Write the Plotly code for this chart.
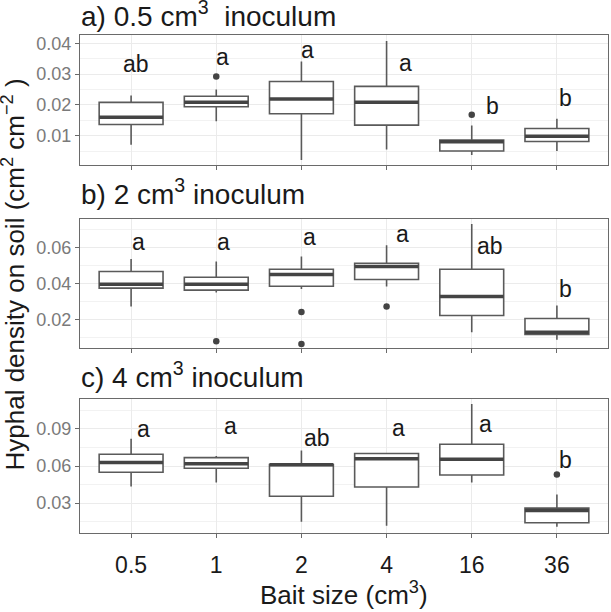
import plotly.graph_objects as go

# ---------------- data ----------------
categories = ["0.5", "1", "2", "4", "16", "36"]

# panel a) 0.5 cm3 inoculum
a_lo  = [0.0070, 0.0147, 0.0021, 0.0055, 0.0037, 0.0050]
a_q1  = [0.0136, 0.0194, 0.0171, 0.0134, 0.0050, 0.0081]
a_med = [0.0160, 0.0208, 0.0219, 0.0208, 0.0080, 0.0098]
a_q3  = [0.0208, 0.0228, 0.0276, 0.0260, 0.0086, 0.0123]
a_hi  = [0.0230, 0.0250, 0.0341, 0.0407, 0.0133, 0.0155]
a_out_x = [1, 4]
a_out_y = [0.0292, 0.0168]
a_letters = ["ab", "a", "a", "a", "b", "b"]
a_letter_y = [0.0334, 0.0350, 0.0371, 0.0328, 0.0189, 0.0216]

# panel b) 2 cm3 inoculum
b_lo  = [0.0274, 0.0352, 0.0372, 0.0385, 0.0131, 0.0089]
b_q1  = [0.0376, 0.0365, 0.0387, 0.0424, 0.0224, 0.0119]
b_med = [0.0398, 0.0398, 0.0452, 0.0496, 0.0330, 0.0131]
b_q3  = [0.0469, 0.0437, 0.0481, 0.0515, 0.0481, 0.0207]
b_hi  = [0.0539, 0.0524, 0.0552, 0.0615, 0.0733, 0.0280]
b_out_x = [1, 2, 2, 3]
b_out_y = [0.0080, 0.0244, 0.0065, 0.0274]
b_letters = ["a", "a", "a", "a", "ab", "b"]
b_letter_y = [0.0622, 0.0622, 0.0650, 0.0665, 0.0613, 0.0363]

# panel c) 4 cm3 inoculum
c_lo  = [0.0433, 0.0466, 0.0148, 0.0115, 0.0466, 0.0107]
c_q1  = [0.0549, 0.0582, 0.0355, 0.0430, 0.0527, 0.0140]
c_med = [0.0629, 0.0618, 0.0610, 0.0659, 0.0654, 0.0239]
c_q3  = [0.0695, 0.0668, 0.0612, 0.0701, 0.0776, 0.0259]
c_hi  = [0.0820, 0.0682, 0.0726, 0.0703, 0.1102, 0.0369]
c_out_x = [5]
c_out_y = [0.0532]
c_letters = ["a", "a", "ab", "a", "a", "b"]
c_letter_y = [0.0880, 0.0908, 0.0825, 0.0894, 0.0922, 0.0632]

panel_titles = ["a) 0.5 cm<sup>3</sup>\u00a0 inoculum",
                "b) 2 cm<sup>3</sup> inoculum",
                "c) 4 cm<sup>3</sup> inoculum"]
a_ticks = [0.01, 0.02, 0.03, 0.04]
b_ticks = [0.02, 0.04, 0.06]
c_ticks = [0.03, 0.06, 0.09]
a_range = [0.00046, 0.04268]
b_range = [0.0043, 0.0761]
c_range = [0.0057, 0.1143]
y_title = "Hyphal density on soil (cm<sup>2</sup> cm<sup>\u22122</sup> )"
x_title = "Bait size (cm<sup>3</sup>)"

# ---------------- styling / layout ----------------
W, H = 611, 612
FONT = "Liberation Sans, Arial, Helvetica, sans-serif"
BOX_COL = "#5a5a5a"
MED_COL = "#444444"
GRID = "#EBEBEB"
FRAME = "#6a6a6a"

left_px, right_px = 80, 608
panels_px = [(35, 165), (219, 348), (399, 533)]
letter_shift = [[5, 6, 6, 19, 21, 9],
                [7, 7, 8, 16, 18, 9],
                [12, 14, 16, 12, 14, 9]]
title_bottom_px = [34, 212, 395]

panels = [
    (a_lo, a_q1, a_med, a_q3, a_hi, a_out_x, a_out_y, a_letters, a_letter_y, a_ticks, a_range),
    (b_lo, b_q1, b_med, b_q3, b_hi, b_out_x, b_out_y, b_letters, b_letter_y, b_ticks, b_range),
    (c_lo, c_q1, c_med, c_q3, c_hi, c_out_x, c_out_y, c_letters, c_letter_y, c_ticks, c_range),
]

fig = go.Figure()
annotations = []
layout = {}
xi = list(range(len(categories)))
half = 0.375

for p, (lo, q1, med, q3, hi, ox, oy, letters, ly, ticks, yr) in enumerate(panels):
    n = p + 1
    xa = "x" if n == 1 else f"x{n}"
    ya = "y" if n == 1 else f"y{n}"
    fig.add_trace(go.Box(
        x=xi, q1=q1, median=med, q3=q3, lowerfence=lo, upperfence=hi,
        width=0.75, whiskerwidth=0, fillcolor="white",
        line=dict(color=BOX_COL, width=1.6), boxpoints=False,
        xaxis=xa, yaxis=ya, showlegend=False, hoverinfo="skip"))
    mx, my = [], []
    for i, m in enumerate(med):
        mx += [i - half, i + half, None]
        my += [m, m, None]
    fig.add_trace(go.Scatter(x=mx, y=my, mode="lines",
                             line=dict(color=MED_COL, width=3.5),
                             xaxis=xa, yaxis=ya, showlegend=False, hoverinfo="skip"))
    fig.add_trace(go.Scatter(x=ox, y=oy, mode="markers",
                             marker=dict(color="#444444", size=6.5),
                             xaxis=xa, yaxis=ya, showlegend=False, hoverinfo="skip"))
    for i, (t, yv) in enumerate(zip(letters, ly)):
        annotations.append(dict(x=i, y=yv, xref=xa, yref=ya, text=t, showarrow=False,
                                xshift=letter_shift[p][i], yshift=(2 if len(t) == 1 else 0),
                                yanchor="middle",
                                font=dict(family=FONT, size=23, color="#1a1a1a")))
    top, bot = panels_px[p]
    xkey = "xaxis" if n == 1 else f"xaxis{n}"
    ykey = "yaxis" if n == 1 else f"yaxis{n}"
    layout[xkey] = dict(
        domain=[left_px / W, right_px / W], anchor=ya,
        range=[-0.6, 5.6], tickvals=xi, ticktext=categories,
        showticklabels=(n == 3), ticks="outside", ticklen=4, tickcolor=FRAME,
        ticklabelstandoff=7,
        tickfont=dict(family=FONT, size=23, color="#1a1a1a"),
        showgrid=True, gridcolor=GRID, gridwidth=1, zeroline=False,
        showline=True, mirror=True, linecolor=FRAME, linewidth=1.3)
    if n != 1:
        layout[xkey]["matches"] = "x"
    step = ticks[1] - ticks[0]
    layout[ykey] = dict(
        domain=[1 - bot / H, 1 - top / H], anchor=xa,
        range=yr, tickvals=ticks, ticktext=[f"{t:.2f}" for t in ticks],
        ticks="outside", ticklen=4, tickcolor=FRAME,
        tickfont=dict(family=FONT, size=18, color="#7a7a7a"),
        showgrid=True, gridcolor=GRID, gridwidth=1, zeroline=False,
        minor=dict(tick0=0, dtick=step / 2, showgrid=True, gridcolor="#F2F2F2", gridwidth=0.8),
        showline=True, mirror=True, linecolor=FRAME, linewidth=1.3)
    annotations.append(dict(x=79 / W, y=1 - title_bottom_px[p] / H, xref="paper", yref="paper",
                            text=panel_titles[p], showarrow=False, xanchor="left", yanchor="bottom",
                            font=dict(family=FONT, size=28, color="#1a1a1a")))

annotations.append(dict(x=32 / W, y=1 - 275 / H, xref="paper", yref="paper", text=y_title,
                        textangle=-90, showarrow=False, xanchor="right", yanchor="middle",
                        font=dict(family=FONT, size=26, color="#1a1a1a")))
annotations.append(dict(x=344 / W, y=0, xref="paper", yref="paper", text=x_title,
                        showarrow=False, xanchor="center", yanchor="bottom",
                        font=dict(family=FONT, size=26, color="#1a1a1a")))

fig.update_layout(width=W, height=H, margin=dict(l=0, r=0, t=0, b=0),
                  paper_bgcolor="white", plot_bgcolor="white",
                  annotations=annotations, showlegend=False, **layout)
fig.write_html("out.html", config={"displayModeBar": False},
               post_script="document.body.style.margin='0';document.body.style.overflow='hidden';")
